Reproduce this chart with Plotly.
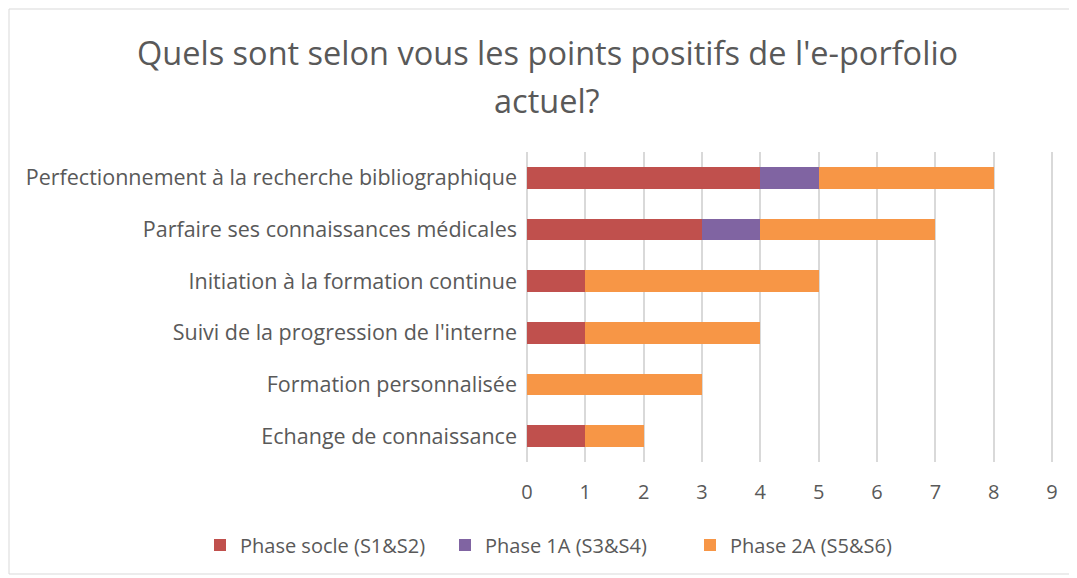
import plotly.graph_objects as go

categories = [
    "Perfectionnement à la recherche bibliographique",
    "Parfaire ses connaissances médicales",
    "Initiation à la formation continue",
    "Suivi de la progression de l'interne",
    "Formation personnalisée",
    "Echange de connaissance",
]
phase_socle = [4, 3, 1, 1, 0, 1]
phase_1a = [1, 1, 0, 0, 0, 0]
phase_2a = [3, 3, 4, 3, 3, 1]

series = [
    ("Phase socle (S1&S2)", phase_socle, "#C0504D"),
    ("Phase 1A (S3&S4)", phase_1a, "#8064A2"),
    ("Phase 2A (S5&S6)", phase_2a, "#F79646"),
]

# page body has an 8px margin, so work in screen coords and shift
OFF = 8
W, H = 1077 - OFF, 578 - OFF
L, R = 524 - OFF, 1077 - 1055
T, B = 152 - OFF, 578 - 462
pw, ph = W - L - R, H - T - B

def px(x):
    return (x - OFF - L) / pw

def py(y):
    return (H - B - (y - OFF)) / ph

FONT = "Open Sans"
GREY = "#595959"
GRID = "#d9d9d9"

fig = go.Figure()
for name, vals, color in series:
    fig.add_trace(go.Bar(
        y=categories, x=vals, name=name, orientation="h",
        marker=dict(color=color, line=dict(width=0)),
    ))

title_lines = ["Quels sont selon vous les points positifs de l'e-porfolio", "actuel?"]
title_y = [52, 100]

fig.update_layout(
    width=W, height=H,
    barmode="stack", bargap=0.58,
    margin=dict(l=L, r=R, t=T, b=B, autoexpand=False),
    plot_bgcolor="white", paper_bgcolor="white",
    font=dict(family=FONT, color=GREY, size=20),
    showlegend=True,
    legend=dict(orientation="h", x=px(200), y=py(545), xanchor="left", yanchor="middle",
                font=dict(size=20, color=GREY), traceorder="normal",
                itemwidth=30, tracegroupgap=0, entrywidth=200, entrywidthmode="pixels"),
    annotations=[dict(
        text=t, xref="paper", yref="paper", x=px(547), y=py(yy),
        xanchor="center", yanchor="middle", showarrow=False,
        font=dict(size=32.5, color=GREY, family=FONT),
    ) for t, yy in zip(title_lines, title_y)],
    shapes=[dict(type="rect", xref="paper", yref="paper",
                 x0=px(9), x1=px(1071), y0=py(574), y1=py(9),
                 line=dict(color=GRID, width=1))],
)
fig.update_xaxes(range=[-0.05, 9.05], dtick=1, tick0=0, showgrid=True, gridcolor=GRID,
                 gridwidth=1.5, zeroline=True, zerolinecolor=GRID, zerolinewidth=1.5,
                 showline=False, ticks="",
                 ticklabelstandoff=16, tickfont=dict(size=20, color=GREY))
fig.update_yaxes(autorange="reversed", showgrid=False, showline=False, ticks="",
                 ticklabelstandoff=6, tickfont=dict(size=21.5, color=GREY))

fig.write_html("out.html")
